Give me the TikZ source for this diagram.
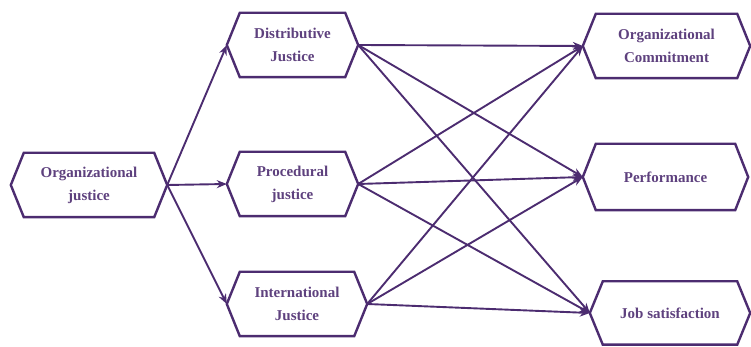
\documentclass[tikz,border=0pt]{standalone}
\usepackage{fontspec}
\setmainfont{Liberation Serif}
\usetikzlibrary{arrows.meta,positioning,calc}
\definecolor{hexpurple}{RGB}{76,44,112}

\begin{document}
\begin{tikzpicture}[
    x=1pt, y=1pt,
    font=\fontsize{15}{23}\selectfont\bfseries,
    box/.style={rectangle, inner sep=0pt, align=center,
      text=hexpurple!90, minimum height=64pt},
    hex/.style={draw=hexpurple, line width=2.4pt, line join=miter},
    arr/.style={-{Stealth[length=10pt, width=8pt]}, line width=1.9pt, draw=hexpurple}
  ]
    \useasboundingbox (0,0) rectangle (751,347);

    \node[box, minimum width=156pt] (oj) at (89,162) {Organizational\\justice};

    \node[box, minimum width=131pt] (dj) at (292.5,302) {Distributive\\Justice};
    \node[box, minimum width=131pt] (pj) at (292.5,163) {Procedural\\justice};
    \node[box, minimum width=140pt] (ij) at (297,43) {International\\Justice};

    \node[box, minimum width=167pt] (oc) at (666.5,301) {Organizational\\Commitment};
    \node[box, minimum width=165pt, minimum height=66pt] (pf) at (665.5,170) {Performance};
    \node[box, minimum width=160pt, minimum height=63pt] (js) at (670,34) {Job satisfaction};

    % hexagon outlines
    \foreach \n in {oj,dj,pj,ij,oc,pf,js}
      \draw[hex] (\n.west) -- ([xshift=13pt]\n.north west) -- ([xshift=-13pt]\n.north east)
        -- (\n.east) -- ([xshift=-13pt]\n.south east) -- ([xshift=13pt]\n.south west) -- cycle;

    \draw[arr] (oj.east) -- (dj.west);
    \draw[arr] (oj.east) -- (pj.west);
    \draw[arr] (oj.east) -- (ij.west);

    \foreach \s in {dj,pj,ij}
      \foreach \t in {oc,pf,js}
        \draw[arr] (\s.east) -- (\t.west);
  \end{tikzpicture}
\end{document}
